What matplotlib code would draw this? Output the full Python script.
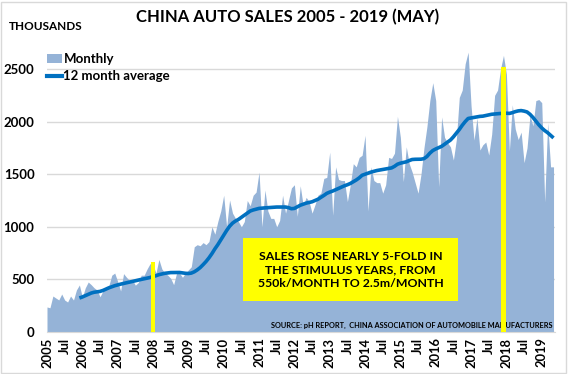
import matplotlib

matplotlib.use("Agg")
import matplotlib.pyplot as plt  # noqa: E402
import numpy as np  # noqa: E402
from matplotlib.lines import Line2D  # noqa: E402
from matplotlib.patches import Patch, Rectangle  # noqa: E402

plt.rcParams["font.family"] = ["Lato", "DejaVu Sans"]
plt.rcParams["font.weight"] = "bold"

# monthly passenger car sales, thousands, Jan 2005 .. May 2019
sales_2005 = [238, 230, 342, 323, 305, 361, 304, 285, 342, 304, 400, 447]
sales_2006 = [330, 420, 475, 450, 420, 400, 335, 390, 420, 440, 540, 560]
sales_2007 = [480, 390, 555, 520, 490, 495, 445, 470, 540, 540, 600, 650]
sales_2008 = [640, 560, 690, 600, 560, 540, 510, 450, 560, 560, 520, 560]
sales_2009 = [590, 620, 810, 830, 820, 850, 830, 860, 1000, 930, 1050, 1150]
sales_2010 = [1300, 1000, 1255, 1130, 1080, 1050, 1000, 1050, 1250, 1200, 1300, 1330]
sales_2011 = [1520, 1000, 1350, 1150, 1080, 1080, 1000, 1060, 1300, 1130, 1250, 1370]
sales_2012 = [1400, 1100, 1390, 1200, 1280, 1240, 1130, 1210, 1300, 1320, 1460, 1470]
sales_2013 = [1710, 1110, 1570, 1450, 1440, 1440, 1240, 1400, 1600, 1570, 1660, 1680]
sales_2014 = [1870, 1150, 1570, 1440, 1420, 1420, 1320, 1400, 1660, 1650, 1700, 2050]
sales_2015 = [1850, 1430, 1760, 1600, 1520, 1420, 1320, 1500, 1750, 1950, 2200, 2370]
sales_2016 = [2200, 1380, 2045, 1850, 1800, 1760, 1635, 1830, 2230, 2300, 2550, 2660]
sales_2017 = [2150, 1825, 2034, 1730, 1780, 1806, 1682, 1880, 2250, 2300, 2500, 2630]
sales_2018 = [2450, 1720, 2160, 1930, 1830, 1900, 1610, 1750, 2060, 1960, 2200, 2210]
sales_2019 = [2180, 1236, 1990, 1570, 1570]

# 12 month average as drawn, Dec 2005 .. May 2019
avg_start = 11
avg_12m = [
    323,
    333, 345, 358, 370, 378, 382, 386, 395, 408, 420, 430, 440,
    448, 455, 462, 468, 474, 480, 487, 494, 500, 506, 512, 518,
    528, 535, 545, 552, 558, 562, 565, 565, 566, 566, 562, 558,
    556, 560, 572, 590, 612, 640, 670, 705, 745, 790, 830, 875,
    920, 965, 1005, 1035, 1055, 1070, 1090, 1110, 1130, 1150, 1160, 1168,
    1175, 1178, 1180, 1182, 1184, 1186, 1188, 1188, 1188, 1188, 1182, 1172,
    1175, 1190, 1205, 1215, 1225, 1232, 1238, 1250, 1262, 1280, 1298, 1318,
    1330, 1340, 1352, 1365, 1378, 1390, 1400, 1412, 1428, 1445, 1465, 1490,
    1500, 1510, 1520, 1528, 1535, 1540, 1545, 1550, 1555, 1560, 1575, 1595,
    1605, 1612, 1618, 1630, 1640, 1642, 1642, 1643, 1648, 1668, 1700, 1725,
    1740, 1752, 1765, 1785, 1805, 1825, 1855, 1890, 1925, 1965, 2000, 2030,
    2035, 2040, 2045, 2050, 2052, 2058, 2065, 2070, 2072, 2075, 2078, 2080,
    2080, 2078, 2085, 2095, 2102, 2105, 2100, 2092, 2070, 2040, 2005, 1970,
    1940, 1915, 1895, 1870, 1845,
]

# yellow markers: Jan 2008 and Dec 2017
highlight_months = [36, 155]
highlight_tops = [670, 2520]

years = list(range(2005, 2020))
tick_labels = []
for y in years:
    tick_labels.append(str(y))
    if y != years[-1]:
        tick_labels.append("Jul")

monthly = (sales_2005 + sales_2006 + sales_2007 + sales_2008 + sales_2009
           + sales_2010 + sales_2011 + sales_2012 + sales_2013 + sales_2014
           + sales_2015 + sales_2016 + sales_2017 + sales_2018 + sales_2019)
months = np.arange(len(monthly))
avg_months = np.arange(avg_start, avg_start + len(avg_12m))

FILL = "#95B3D7"
LINE = "#0070C0"
YELLOW = "#FFFF00"
W, H = 572, 374

fig = plt.figure(figsize=(W / 100, H / 100), dpi=100)
ax = fig.add_axes([47 / W, (H - 332) / H, 508 / W, (332 - 48) / H])

ax.fill_between(months, monthly, color=FILL, lw=0, zorder=2)
ax.plot(avg_months, avg_12m, color=LINE, lw=2.6, zorder=3,
        solid_capstyle="butt")
ax.bar(highlight_months, highlight_tops, width=1.6, color=YELLOW, zorder=6)

ax.set_xlim(0, 172.5)
ax.set_ylim(0, 2700)
ax.set_yticks(np.arange(0, 2501, 500))
ax.set_xticks(np.arange(0, len(tick_labels) * 6, 6))
ax.set_xticklabels(tick_labels, rotation=90, va="top", ha="center")
ax.tick_params(axis="y", length=0, pad=9, labelsize=9.5)
ax.tick_params(axis="x", length=0, pad=4, labelsize=9.3)
ax.grid(axis="y", color="#D9D9D9", lw=1)
ax.set_axisbelow(True)
for s in ("top", "right", "left"):
    ax.spines[s].set_visible(False)
ax.spines["bottom"].set_color("#D9D9D9")

handles = [Patch(facecolor=FILL, edgecolor="none"),
           Line2D([], [], color=LINE, lw=3)]
fig.legend(handles, ["Monthly", "12 month average"], loc="upper left",
           bbox_to_anchor=(47 / W, 1 - 53 / H), frameon=False, fontsize=9.5,
           handlelength=1.1, handletextpad=0.15, labelspacing=0.4,
           borderpad=0, borderaxespad=0)

fig.text(0.503, 1 - 17 / H, "CHINA AUTO SALES 2005 - 2019 (MAY)",
         ha="center", va="center", fontsize=12)
fig.text(9 / W, 1 - 26 / H, "THOUSANDS", ha="left", va="center", fontsize=8.5)

# annotation box
fig.patches.append(Rectangle((243 / W, 1 - 301 / H), 215 / W, 63 / H,
                             transform=fig.transFigure, facecolor=YELLOW,
                             edgecolor="none", zorder=5))
fig.text(350.5 / W, 1 - 270 / H,
         "SALES ROSE NEARLY 5-FOLD IN\nTHE STIMULUS YEARS, FROM\n"
         "550k/MONTH TO 2.5m/MONTH",
         ha="center", va="center", fontsize=8.8, linespacing=1.32, zorder=6)

ax.text(0.995, 0.012,
        "SOURCE: pH REPORT,  CHINA ASSOCIATION OF AUTOMOBILE MANUFACTURERS",
        transform=ax.transAxes, ha="right", va="bottom", fontsize=5.3,
        zorder=4)

# chart border
fig.patches.append(Rectangle((1 / W, 1 / H), 565 / W, 371 / H,
                             transform=fig.transFigure, fill=False,
                             edgecolor="#D9D9D9", lw=1))

fig.savefig("out.png", dpi=100)
